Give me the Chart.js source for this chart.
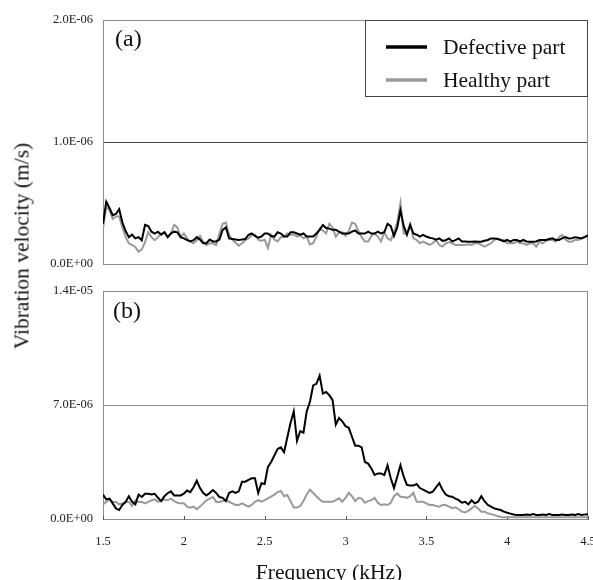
<!DOCTYPE html>
<html>
<head>
<meta charset="utf-8">
<script src="https://cdn.jsdelivr.net/npm/chart.js@4/dist/chart.umd.min.js"></script>
<style>
  html, body { margin: 0; padding: 0; background: #fff; }
  #wrap { position: relative; width: 593px; height: 580px; overflow: hidden; font-family: 'Liberation Serif', 'Times New Roman', serif; }
  canvas { position: absolute; left: 0; }
  #top { top: 0; }
  #bottom { top: 270px; }
  #ytitle { position: absolute; left: 22px; top: 246px; transform: translate(-50%, -50%) rotate(-90deg); white-space: nowrap; font-size: 21.5px; color: #111; }
</style>
</head>
<body>
<div id="wrap">
  <canvas id="top" width="593" height="270"></canvas>
  <canvas id="bottom" width="593" height="310"></canvas>
  <div id="ytitle">Vibration velocity (m/s)</div>
</div>
<script>
// frequency samples (kHz)
const freq = [
  1.50, 1.52, 1.54, 1.56, 1.58, 1.60, 1.62, 1.64, 1.66, 1.68,
  1.70, 1.72, 1.74, 1.76, 1.78, 1.80, 1.82, 1.84, 1.86, 1.88,
  1.90, 1.92, 1.94, 1.96, 1.98, 2.00, 2.02, 2.04, 2.06, 2.08,
  2.10, 2.12, 2.14, 2.16, 2.18, 2.20, 2.22, 2.24, 2.26, 2.28,
  2.30, 2.32, 2.34, 2.36, 2.38, 2.40, 2.42, 2.44, 2.46, 2.48,
  2.50, 2.52, 2.54, 2.56, 2.58, 2.60, 2.62, 2.64, 2.66, 2.68,
  2.70, 2.72, 2.74, 2.76, 2.78, 2.80, 2.82, 2.84, 2.86, 2.88,
  2.90, 2.92, 2.94, 2.96, 2.98, 3.00, 3.02, 3.04, 3.06, 3.08,
  3.10, 3.12, 3.14, 3.16, 3.18, 3.20, 3.22, 3.24, 3.26, 3.28,
  3.30, 3.32, 3.34, 3.36, 3.38, 3.40, 3.42, 3.44, 3.46, 3.48,
  3.50, 3.52, 3.54, 3.56, 3.58, 3.60, 3.62, 3.64, 3.66, 3.68,
  3.70, 3.72, 3.74, 3.76, 3.78, 3.80, 3.82, 3.84, 3.86, 3.88,
  3.90, 3.92, 3.94, 3.96, 3.98, 4.00, 4.02, 4.04, 4.06, 4.08,
  4.10, 4.12, 4.14, 4.16, 4.18, 4.20, 4.22, 4.24, 4.26, 4.28,
  4.30, 4.32, 4.34, 4.36, 4.38, 4.40, 4.42, 4.44, 4.46, 4.48,
  4.50,
]

// panel (a), units of 1e-7 m/s
const defectA = [
  3.3, 5.1, 4.6, 4.0, 4.1, 4.5, 3.4, 2.7, 2.2, 2.4,
  2.1, 2.2, 1.95, 3.2, 3.1, 2.65, 2.5, 2.65, 2.4, 2.6,
  2.2, 2.5, 2.65, 2.6, 2.2, 2.1, 1.95, 1.85, 1.95, 2.2,
  2.0, 1.7, 1.7, 2.0, 1.85, 1.85, 2.0, 2.8, 3.0, 2.1,
  2.05, 2.0, 1.97, 2.0, 2.05, 2.4, 2.5, 2.3, 2.15, 2.25,
  2.5, 2.5, 2.3, 2.25, 2.6, 2.5, 2.25, 2.25, 2.6, 2.6,
  2.5, 2.4, 2.5, 2.25, 2.25, 2.25, 2.5, 2.8, 3.2, 2.95,
  2.9, 2.8, 2.8, 2.65, 2.5, 2.5, 2.5, 2.65, 2.75, 2.5,
  2.5, 2.5, 2.65, 2.5, 2.5, 2.65, 2.5, 2.6, 3.3, 3.1,
  2.3, 3.0, 4.4, 3.1, 2.4, 3.2, 2.5, 2.4, 2.25, 2.38,
  2.25, 2.15, 2.1, 2.0, 2.1, 1.9, 1.95, 2.1, 1.85, 1.95,
  2.1, 1.85, 1.85, 1.83, 1.83, 1.85, 1.83, 1.83, 1.9, 1.97,
  2.1, 2.1, 2.05, 1.97, 1.85, 1.97, 1.83, 1.97, 1.97, 1.85,
  1.97, 1.85, 1.83, 1.83, 1.85, 1.97, 1.97, 1.97, 2.05, 2.1,
  1.97, 1.97, 2.1, 2.2, 2.1, 2.11, 2.2, 2.15, 2.1, 2.2,
  2.35,
]
const healthyA = [
  2.9, 4.7, 4.4, 3.7, 3.9, 3.9, 3.0, 2.2, 1.7, 1.55,
  1.4, 1.0, 1.2, 1.8, 2.6, 2.2, 1.95, 2.2, 2.5, 2.6,
  2.2, 2.5, 3.2, 3.0, 2.2, 2.5, 2.1, 1.85, 1.7, 1.95,
  2.3, 1.8, 1.55, 1.7, 1.7, 1.55, 2.5, 3.3, 3.4, 2.4,
  2.0, 1.75, 1.5, 1.7, 1.95, 2.1, 2.35, 2.4, 2.0, 1.9,
  2.0, 1.3, 2.4, 2.0, 1.85, 2.2, 2.25, 2.5, 2.4, 2.4,
  2.25, 2.35, 2.1, 2.25, 1.6, 1.7, 2.25, 2.9, 2.75, 2.5,
  3.3, 3.0, 2.25, 2.6, 2.6, 2.3, 2.7, 3.4, 3.3, 2.7,
  2.2, 1.85, 1.85, 2.3, 2.5, 2.25, 1.85, 2.6, 2.1, 1.95,
  2.6, 3.4, 5.0, 2.5, 2.5, 3.3, 2.1, 1.97, 1.7, 1.83,
  1.7, 1.56, 1.7, 1.97, 1.56, 1.43, 1.7, 1.8, 1.7, 1.56,
  1.56, 1.56, 1.56, 1.62, 1.56, 1.7, 1.7, 1.56, 1.43, 1.56,
  1.7, 1.97, 2.1, 1.97, 1.97, 1.7, 1.7, 1.7, 1.83, 1.7,
  1.7, 1.56, 1.7, 1.7, 1.43, 1.83, 1.7, 1.9, 1.97, 1.97,
  1.83, 2.2, 2.38, 2.0, 1.83, 1.83, 1.97, 1.97, 2.1, 2.25,
  2.25,
]

// panel (b), units of 1e-6 m/s
const defectB = [
  1.5, 1.2, 1.25, 0.96, 0.65, 0.55, 0.86, 1.05, 1.4, 1.05,
  0.9, 1.5, 1.35, 1.55, 1.55, 1.5, 1.55, 1.3, 1.1, 1.4,
  1.58, 1.7, 1.45, 1.45, 1.45, 1.55, 1.75, 1.65, 1.95, 2.35,
  1.9, 1.6, 1.45, 1.6, 1.78, 1.6, 1.35, 1.3, 1.1, 1.6,
  1.7, 1.6, 1.7, 2.29, 2.29, 2.4, 2.5, 2.5, 1.6, 2.2,
  2.15, 3.2, 3.5, 3.9, 4.3, 4.4, 4.1, 5.0, 5.9, 6.6,
  4.8, 5.4, 5.3, 6.6, 7.2, 8.2, 8.3, 8.8, 7.7, 7.8,
  7.6, 7.3, 5.8, 6.2, 6.0, 5.7, 5.6, 5.05, 4.5, 4.5,
  4.4, 3.5, 3.4, 3.1, 2.7, 2.8, 2.8, 2.7, 3.3, 2.5,
  1.9, 2.6, 3.3, 2.6, 2.1, 2.05, 2.05, 2.15, 1.9, 1.8,
  1.7, 1.6, 1.68, 1.95, 2.2, 1.8, 1.5, 1.4, 1.37, 1.25,
  1.16, 1.0, 1.06, 0.9, 1.15, 0.96, 1.06, 1.4, 1.1, 0.86,
  0.76, 0.65, 0.6, 0.55, 0.45, 0.38, 0.33, 0.28, 0.25, 0.25,
  0.25, 0.27, 0.25, 0.3, 0.25, 0.25, 0.27, 0.25, 0.3, 0.25,
  0.25, 0.25, 0.27, 0.25, 0.25, 0.27, 0.25, 0.3, 0.25, 0.27,
  0.3,
]
const healthyB = [
  0.9, 1.05, 1.2, 1.05, 1.05, 0.9, 0.95, 1.05, 1.05, 0.8,
  1.15, 1.05, 1.05, 0.96, 1.05, 1.15, 1.2, 1.05, 1.15, 1.2,
  1.15, 1.25, 1.1, 1.0, 0.96, 0.96, 0.76, 0.7, 0.76, 0.6,
  0.76, 0.96, 1.15, 1.25, 1.35, 1.05, 1.05, 1.1, 1.16, 1.06,
  0.96, 0.86, 0.86, 0.96, 0.86, 0.76, 0.86, 1.06, 1.16, 1.06,
  1.16, 1.27, 1.37, 1.5, 1.65, 1.72, 1.4, 1.47, 1.1, 0.7,
  0.7, 0.8, 1.1, 1.5, 1.8, 1.6, 1.4, 1.2, 1.06, 1.06,
  1.06, 1.06, 1.16, 1.27, 1.06, 1.3, 1.6, 1.4, 1.1, 1.3,
  1.25, 1.0, 1.1, 1.16, 1.3, 1.0, 0.86, 0.9, 0.86, 1.0,
  1.4, 1.57, 1.37, 1.35, 1.3, 1.4, 1.6, 1.06, 1.06, 1.06,
  0.96, 0.86, 0.86, 0.8, 0.76, 0.86, 0.86, 0.76, 0.66, 0.72,
  0.6, 0.45, 0.4, 0.5, 0.65, 0.8, 0.65, 0.45, 0.45, 0.35,
  0.3, 0.25, 0.18, 0.12, 0.1, 0.1, 0.1, 0.1, 0.1, 0.1,
  0.1, 0.12, 0.1, 0.1, 0.1, 0.1, 0.1, 0.12, 0.1, 0.1,
  0.1, 0.1, 0.1, 0.1, 0.1, 0.1, 0.12, 0.1, 0.1, 0.1,
  0.1,
]

const seriesNames = ['Defective part', 'Healthy part']
const seriesColors = ['#000000', '#9a9a9a']
const yTicksA = [0, 1e-6, 2e-6]
const yTicksB = [0, 7e-6, 1.4e-5]
const xTicks = [1.5, 2, 2.5, 3, 3.5, 4, 4.5]
const serif = "'Liberation Serif', 'Times New Roman', serif"

const toPoints = (vals, unit) => vals.map((v, i) => ({ x: freq[i], y: v * unit }))

// 1e-6 -> "1.0E-06"
function sci(v) {
  const [m, e] = Number(v).toExponential(1).split('e')
  const sign = e[0] === '-' ? '-' : '+'
  return m + 'E' + sign + e.replace(/[+-]/, '').padStart(2, '0')
}

// plot frame + small inward tick marks
const frame = {
  id: 'frame',
  beforeDatasetsDraw(chart, args, opts) {
    const { ctx, chartArea: a } = chart
    ctx.save()
    ctx.lineWidth = 1
    ctx.strokeStyle = opts.color
    ctx.strokeRect(a.left + 0.5, a.top + 0.5, a.right - a.left - 1, a.bottom - a.top)
    if (opts.ticks) {
      ctx.strokeStyle = '#555'
      const xs = chart.scales.x
      xTicks.forEach((t) => {
        const px = Math.round(xs.getPixelForValue(t)) + 0.5
        ctx.beginPath()
        ctx.moveTo(px, a.bottom - 3)
        ctx.lineTo(px, a.bottom + 1)
        ctx.stroke()
      })
    }
    ctx.restore()
  },
}

// free text: panel letter, axis title
const notes = {
  id: 'notes',
  afterDraw(chart, args, opts) {
    const { ctx } = chart
    ctx.save()
    ctx.fillStyle = '#111'
    ctx.textBaseline = 'alphabetic'
    ;(opts.items || []).forEach((t) => {
      ctx.font = t.size + 'px ' + serif
      ctx.textAlign = t.align || 'left'
      ctx.fillText(t.text, t.x, t.y)
    })
    ctx.restore()
  },
}

// boxed legend in the top right corner of panel (a)
const boxLegend = {
  id: 'boxLegend',
  afterDraw(chart, args, opts) {
    if (!opts.show) return
    const { ctx, chartArea: a } = chart
    const w = 223
    const h = 77
    const x0 = a.right - w
    const y0 = a.top
    ctx.save()
    ctx.fillStyle = '#fff'
    ctx.fillRect(x0, y0, w, h)
    ctx.strokeStyle = '#444'
    ctx.lineWidth = 1
    ctx.strokeRect(x0 + 0.5, y0 + 0.5, w - 1, h - 1)
    chart.data.datasets.forEach((ds, i) => {
      const cy = y0 + 27 + i * 33
      ctx.strokeStyle = ds.borderColor
      ctx.lineWidth = 3.5
      ctx.beginPath()
      ctx.moveTo(x0 + 21, cy)
      ctx.lineTo(x0 + 62, cy)
      ctx.stroke()
      ctx.fillStyle = '#111'
      ctx.font = '21.5px ' + serif
      ctx.textBaseline = 'middle'
      ctx.textAlign = 'left'
      ctx.fillText(ds.label, x0 + 78, cy + 1)
    })
    ctx.restore()
  },
}

function makePanel(id, defect, healthy, unit, yTicks, cfg) {
  return new Chart(document.getElementById(id), {
    type: 'line',
    data: {
      datasets: [
        { label: seriesNames[0], data: toPoints(defect, unit), borderColor: seriesColors[0], borderWidth: 2 },
        { label: seriesNames[1], data: toPoints(healthy, unit), borderColor: seriesColors[1], borderWidth: 2 },
      ],
    },
    options: {
      responsive: false,
      animation: false,
      devicePixelRatio: 1,
      layout: { padding: cfg.padding },
      elements: { point: { radius: 0 }, line: { tension: 0, borderJoinStyle: 'miter' } },
      plugins: {
        legend: { display: false },
        tooltip: { enabled: false },
        frame: { color: '#8c8c8c', ticks: cfg.showX },
        notes: { items: cfg.notes },
        boxLegend: { show: cfg.legend },
      },
      scales: {
        x: {
          type: 'linear',
          min: 1.5,
          max: 4.5,
          display: cfg.showX,
          afterBuildTicks: (s) => { s.ticks = xTicks.map((v) => ({ value: v })) },
          afterFit: (s) => {
            s.height = cfg.xHeight || s.height
            s.paddingLeft = 0
            s.paddingRight = 0
          },
          grid: { drawOnChartArea: false, drawTicks: false },
          border: { display: false },
          ticks: { padding: 15, color: '#222', font: { family: serif, size: 12.5 }, callback: (v) => String(v) },
        },
        y: {
          min: yTicks[0],
          max: yTicks[2],
          afterBuildTicks: (s) => { s.ticks = yTicks.map((v) => ({ value: v })) },
          afterFit: (s) => {
            s.width = 103
            s.paddingTop = 0
            s.paddingBottom = 0
          },
          grid: {
            drawTicks: false,
            color: (c) => (c.index === 1 ? cfg.gridColor : 'rgba(0,0,0,0)'),
          },
          border: { display: true, color: '#222' },
          ticks: { padding: 10, color: '#222', font: { family: serif, size: 12.5 }, callback: (v) => sci(v) },
        },
      },
    },
    plugins: [frame, notes, boxLegend],
  })
}

makePanel('top', defectA, healthyA, 1e-7, yTicksA, {
  padding: { top: 20, right: 5, bottom: 6, left: 0 },
  showX: false,
  gridColor: '#444',
  legend: true,
  notes: [{ text: '(a)', x: 115, y: 46, size: 24 }],
})

makePanel('bottom', defectB, healthyB, 1e-6, yTicksB, {
  padding: { top: 21, right: 5, bottom: 0, left: 0 },
  showX: true,
  xHeight: 61,
  gridColor: '#8c8c8c',
  legend: false,
  notes: [
    { text: '(b)', x: 113, y: 48, size: 24 },
    { text: 'Frequency (kHz)', x: 329, y: 309, size: 21.5, align: 'center' },
  ],
})
</script>
</body>
</html>
